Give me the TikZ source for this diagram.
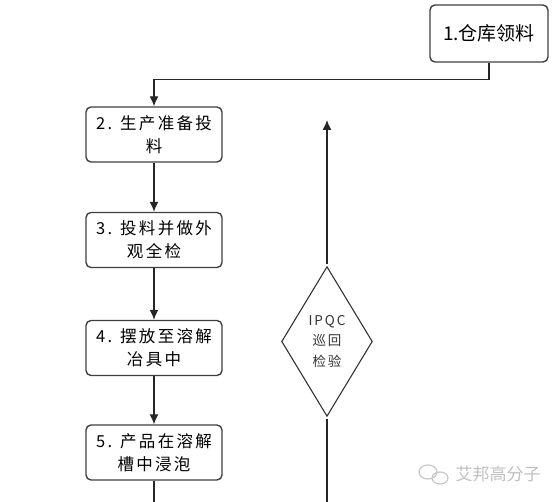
\documentclass[tikz,border=0pt]{standalone}
\usepackage{fontspec}
\newfontfamily\cjkbox[LetterSpace=14]{Noto Sans CJK SC}
\newfontfamily\cjkplain{Noto Sans CJK SC}
\usetikzlibrary{%
  arrows.meta,%
  shapes.geometric%
}
\tikzset{>={Latex[length=10pt,width=9pt]}}
\tikzset{
  stepbox/.style={draw=black!75,line width=1.4pt,rounded corners=5pt,
    fill=white,minimum width=136pt,minimum height=55pt,inner sep=0pt,
    align=center,font={\cjkbox\fontsize{16.5pt}{23pt}\selectfont}},
  checkbox/.style={diamond,draw=black!80,line width=1.1pt,aspect=0.61,
    minimum width=92pt,minimum height=151pt,inner sep=0pt,outer sep=2pt,
    align=center,text=black!80,font={\cjkbox\fontsize{13.5pt}{20.5pt}\selectfont}},
  flow/.style={line width=1.3pt,draw=black!85}
}

\begin{document}
\begin{tikzpicture}[x=1pt,y=-1pt]
        \useasboundingbox (0,0) rectangle (558,502);
        % process steps
        \node[stepbox,minimum width=118pt,minimum height=57pt,
          font={\cjkplain\fontsize{19pt}{23pt}\selectfont}] (lingliao) at (489,33.5) {1.仓库领料};
        \node[stepbox] (touliao) at (154,134.5) {2. 生产准备投\\料};
        \node[stepbox] (waiguan) at (154,240) {3. 投料并做外\\观全检};
        \node[stepbox] (baifang) at (154,348) {4. 摆放至溶解\\冶具中};
        \node[stepbox] (jinpao) at (154,452.5) {5. 产品在溶解\\槽中浸泡};
        % inspection
        \node[checkbox] (ipqc) at (327,341.5) {IPQC\\巡回\\检验};
        \coordinate (ipqctop) at (327,120);
        \coordinate (ipqcend) at (327,502);
        \coordinate (stepend) at (154,502);
        % connectors
        \draw[flow,->] (lingliao.south) -- ++(0,17) -| (touliao.north);
        \draw[flow,->] (touliao) -- (waiguan);
        \draw[flow,->] (waiguan) -- (baifang);
        \draw[flow,->] (baifang) -- (jinpao);
        \draw[flow] (jinpao.south) -- (stepend);
        \draw[flow,->] (ipqc.north) -- (ipqctop);
        \draw[flow] (ipqcend) -- (ipqc.south);
        % watermark
        \draw[black!22,line width=1.2pt] (428,472) ellipse (9 and 7)
        (440,478) ellipse (8 and 6);
        \node[text=black!25,font={\cjkplain\fontsize{17pt}{20pt}\selectfont}] (mark) at (498,474) {艾邦高分子};
      \end{tikzpicture}
\end{document}
